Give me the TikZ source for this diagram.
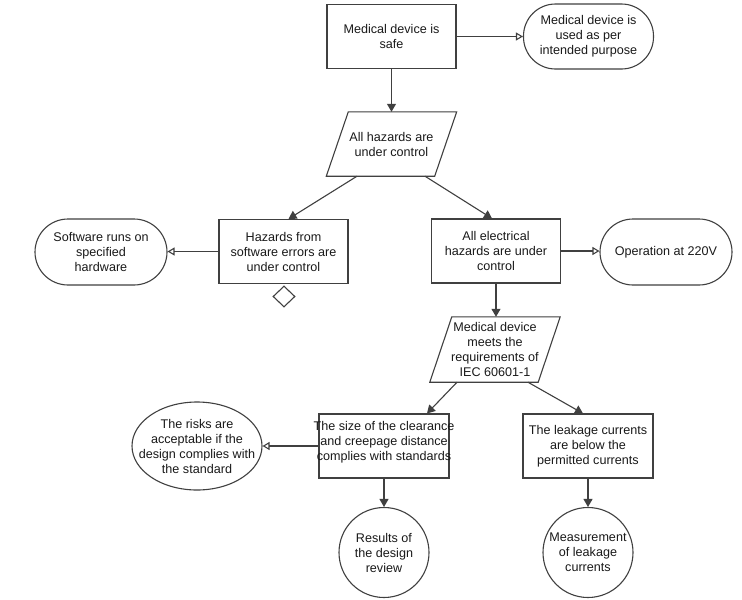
\documentclass[tikz,border=0pt]{standalone}
\usepackage{fontspec}
\setmainfont{Liberation Sans}
\usetikzlibrary{arrows.meta,shapes.geometric,calc}
\definecolor{ln}{HTML}{404040}
\definecolor{tx}{HTML}{1A1A1A}
\begin{document}
\begin{tikzpicture}[x=1pt,y=-1pt,
  every node/.style={font=\fontsize{12.6}{15}\selectfont, text=tx, align=center},
  boxn/.style={draw=ln, line width=1.1pt, rectangle, minimum width=129pt, minimum height=64pt, inner sep=0pt},
  stad/.style={draw=ln, line width=1.1pt, rectangle, rounded corners=32pt, minimum width=130pt, minimum height=65pt, inner sep=0pt},
  para/.style={rectangle, minimum width=108pt, minimum height=64pt, inner sep=0pt},
  circn/.style={draw=ln, line width=1.1pt, circle, minimum size=90pt, inner sep=0pt},
  elln/.style={draw=ln, line width=1.1pt, ellipse, minimum width=130pt, minimum height=88pt, inner sep=0pt},
  dia/.style={draw=ln, line width=1.1pt, diamond, minimum width=22pt, minimum height=21pt, inner sep=0pt},
  conn/.style={draw=ln, line width=1.1pt, -{Triangle[width=9pt,length=8pt]}},
  oconn/.style={draw=ln, line width=1.1pt, -{Triangle[open,width=8pt,length=7pt]}},
  pline/.style={draw=ln, line width=1.1pt}
]
\useasboundingbox[fill=white] (0,0) rectangle (742,600);

\node[boxn] (safe) at (391.5,36.5) {Medical device is\\safe};
\node[stad] (use) at (588.5,36.5) {Medical device is\\used as per\\intended purpose};

\node[para] (p1) at (391.5,144) {All hazards are\\under control};
\draw[pline] ($(p1.north west)+(11,0)$) -- ($(p1.north east)+(11,0)$) -- ($(p1.south east)+(-11,0)$) -- ($(p1.south west)+(-11,0)$) -- cycle;

\node[boxn] (sw) at (283.5,251.5) {Hazards from\\software errors are\\under control};
\node[stad, minimum width=132pt, minimum height=66pt, rounded corners=33pt] (hw) at (101,252) {Software runs on\\specified\\hardware};
\node[dia] (d) at (284,296.5) {};

\node[boxn] (elec) at (496,251) {All electrical\\hazards are under\\control};
\node[stad, minimum width=132pt, minimum height=66pt, rounded corners=33pt] (op) at (666,252) {Operation at 220V};

\node[para, minimum height=65pt] (p2) at (495,349.5) {Medical device\\meets the\\requirements of\\IEC 60601-1};
\draw[pline] ($(p2.north west)+(11,0)$) -- ($(p2.north east)+(11,0)$) -- ($(p2.south east)+(-11,0)$) -- ($(p2.south west)+(-11,0)$) -- cycle;

\node[boxn, minimum width=130pt, text depth=0pt] (clr) at (384,446) {\makebox[120pt]{The size of the clearance}\\\makebox[120pt]{and creepage distance}\\\makebox[120pt]{complies with standards}\\[-4pt]\strut};
\node[boxn, minimum width=130pt] (leak) at (588,446) {The leakage currents\\are below the\\permitted currents};
\node[elln] (risk) at (197,446) {\makebox[0pt]{The risks are}\\\makebox[0pt]{acceptable if the}\\\makebox[0pt]{design complies with}\\\makebox[0pt]{the standard}};

\node[circn] (rev) at (384,552.5) {\makebox[0pt]{Results of}\\\makebox[0pt]{the design}\\\makebox[0pt]{review}};
\node[circn] (meas) at (588,552.5) {\makebox[0pt]{Measurement}\\\makebox[0pt]{of leakage}\\\makebox[0pt]{currents}};

\coordinate (p1a) at ($(p1.south)+(-34.5,0)$);
\coordinate (p1b) at ($(p1.south)+(33.5,0)$);
\coordinate (p2a) at ($(p2.south)+(-38,0)$);
\coordinate (p2b) at ($(p2.south)+(33,0)$);

\draw[oconn] (safe.east) -- (use.west);
\draw[conn] (safe.south) -- (safe.south |- p1.north);
\draw[conn] (p1a) -- ($(sw.north)+(5,0)$);
\draw[conn] (p1b) -- ($(elec.north)+(-4,0)$);
\draw[oconn] (sw.west) -- (sw.west -| hw.east);
\draw[oconn] (elec.east) -- (elec.east -| op.west);
\draw[conn] (elec.south) -- (elec.south |- p2.north);
\draw[conn] (p2a) -- ($(clr.north)+(43,0)$);
\draw[conn] (p2b) -- ($(leak.north)+(-5,0)$);
\draw[oconn] (clr.west) -- (risk.east);
\draw[conn] (clr.south) -- (rev.north);
\draw[conn] (leak.south) -- (meas.north);
\end{tikzpicture}
\end{document}
